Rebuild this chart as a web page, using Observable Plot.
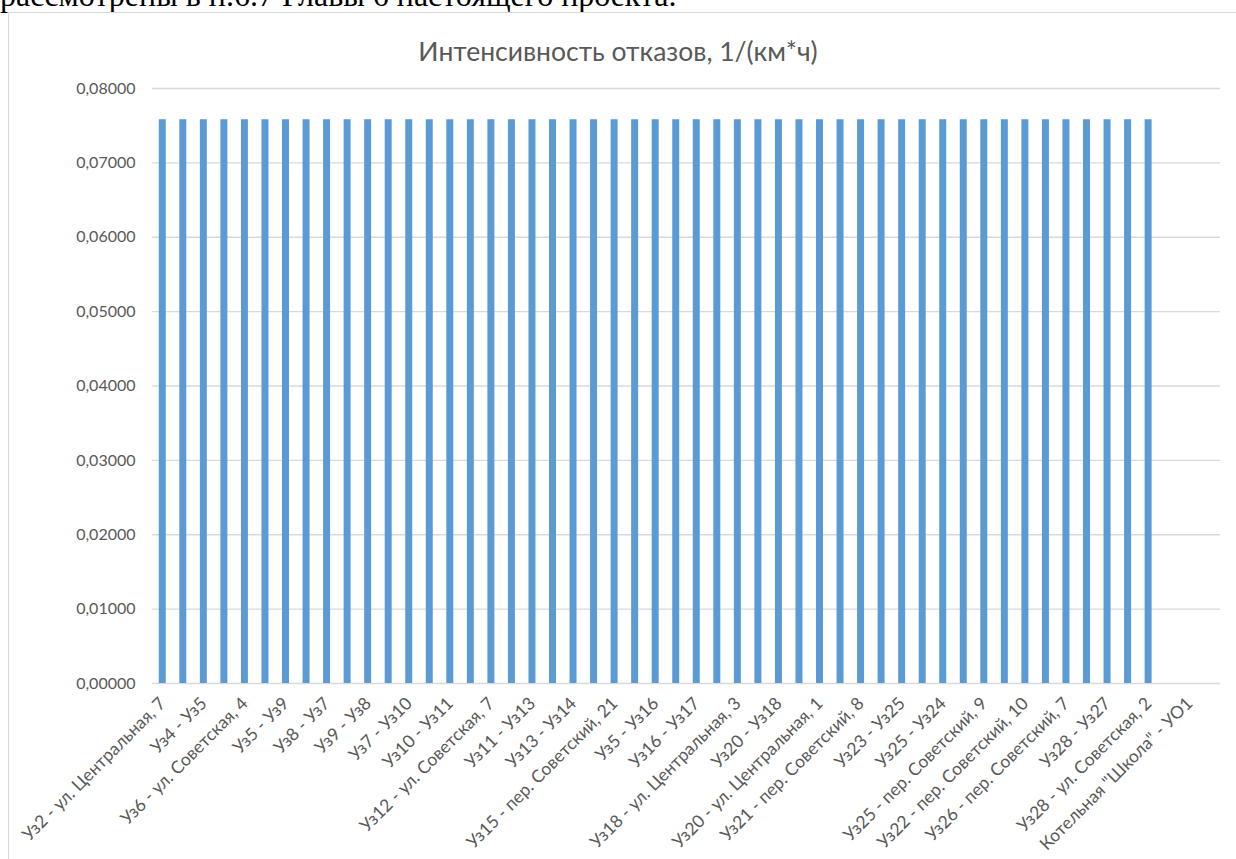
<!DOCTYPE html>
<html><head><meta charset="utf-8">
<script src="https://cdn.jsdelivr.net/npm/d3@7"></script>
<script src="https://cdn.jsdelivr.net/npm/@observablehq/plot@0.6"></script>
<style>
body{margin:0;background:#fff;width:1236px;height:859px;overflow:hidden;position:relative;}
#doc{position:absolute;left:0;top:-21px;font-family:"Liberation Serif";font-size:32px;line-height:32px;white-space:nowrap;color:#000}
#frame{position:absolute;left:8px;top:12px;width:1240px;height:860px;border:1px solid #d9d9d9;box-sizing:border-box}
#title{position:absolute;left:0;width:1236px;top:37px;line-height:28px;text-align:center;font-family:Lato;font-size:26.5px;color:#595959}
#chart{position:absolute;left:0;top:0}
</style></head>
<body>
<div id="doc">рассмотрены в п.6.7 Главы 6 настоящего проекта.</div>
<div id="frame"></div>
<div id="chart"></div>
<div id="title">Интенсивность отказов, 1/(км*ч)</div>
<script>
// Visible category labels (every other category is labelled in the reference)
const labels = [
  "Уз2 - ул. Центральная, 7",
  "Уз4 - Уз5",
  "Уз6 - ул. Советская, 4",
  "Уз5 - Уз9",
  "Уз8 - Уз7",
  "Уз9 - Уз8",
  "Уз7 - Уз10",
  "Уз10 - Уз11",
  "Уз12 - ул. Советская, 7",
  "Уз11 - Уз13",
  "Уз13 - Уз14",
  "Уз15 - пер. Советский, 21",
  "Уз5 - Уз16",
  "Уз16 - Уз17",
  "Уз18 - ул. Центральная, 3",
  "Уз20 - Уз18",
  "Уз20 - ул. Центральная, 1",
  "Уз21 - пер. Советский, 8",
  "Уз23 - Уз25",
  "Уз25 - Уз24",
  "Уз25 - пер. Советский, 9",
  "Уз22 - пер. Советский, 10",
  "Уз26 - пер. Советский, 7",
  "Уз28 - Уз27",
  "Уз28 - ул. Советская, 2",
  "Котельная \"Школа\" - УО1"
];
// Number of category slots on the axis
const slotCount = 52;
// Failure intensity per section (first 49 slots have bars)
const values = [
  0.0758, 0.0758, 0.0758, 0.0758, 0.0758, 0.0758, 0.0758, 0.0758, 0.0758, 0.0758,
  0.0758, 0.0758, 0.0758, 0.0758, 0.0758, 0.0758, 0.0758, 0.0758, 0.0758, 0.0758,
  0.0758, 0.0758, 0.0758, 0.0758, 0.0758, 0.0758, 0.0758, 0.0758, 0.0758, 0.0758,
  0.0758, 0.0758, 0.0758, 0.0758, 0.0758, 0.0758, 0.0758, 0.0758, 0.0758, 0.0758,
  0.0758, 0.0758, 0.0758, 0.0758, 0.0758, 0.0758, 0.0758, 0.0758, 0.0758
];
const yTicks = [0, 0.01, 0.02, 0.03, 0.04, 0.05, 0.06, 0.07, 0.08];

const slots = d3.range(slotCount);
const labelled = slots.filter(i => i % 2 === 0);
const data = values.map((v, i) => ({i, v}));
const fmt = d => d.toFixed(5).replace(".", ",");

const chart = Plot.plot({
  width: 1236, height: 859,
  marginLeft: 152, marginRight: 16, marginTop: 88, marginBottom: 176,
  style: {fontFamily: "Lato", fontSize: "16px", color: "#595959", background: "transparent"},
  x: {type: "band", domain: slots, paddingInner: 0.66, paddingOuter: 0.33, round: false},
  y: {domain: [0, 0.08]},
  marks: [
    Plot.gridY(yTicks, {stroke: "#d9d9d9", strokeOpacity: 1, strokeWidth: 1.3}),
    Plot.barY(data, {x: "i", y: "v", fill: "#5B9BD5"}),
    Plot.axisY(yTicks, {tickSize: 0, tickPadding: 17, tickFormat: fmt, label: null, fontSize: 16}),
    Plot.axisX(labelled, {tickSize: 0, tickPadding: 17, tickRotate: -45, tickFormat: i => labels[i / 2], label: null, fontSize: 17.5})
  ]
});
document.getElementById("chart").appendChild(chart);
</script>
</body></html>
